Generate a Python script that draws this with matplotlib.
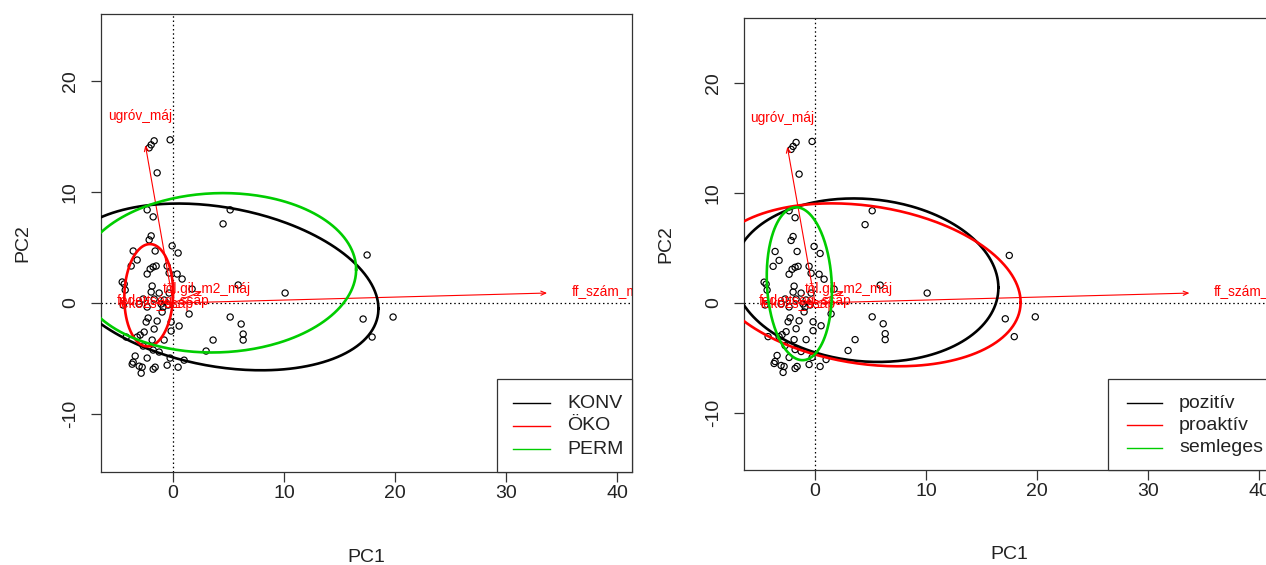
import numpy as np
import matplotlib
matplotlib.use("Agg")
import matplotlib.pyplot as plt
from matplotlib.patches import Rectangle
from matplotlib.lines import Line2D

plt.rcParams['font.family'] = ['Liberation Sans', 'DejaVu Sans']

# PCA site scores (PC1, PC2)
pc1 = [-1.71, -1.98, -2.16, -0.27, -1.44, -2.34, 5.14, -1.80, 4.50, -1.98,
       -2.16, -3.60, -1.62, -0.09, 0.45, -3.24, -3.78, -2.07, -1.80, -1.53,
       -2.34, -0.54, -0.36, 0.36, 0.81, -4.59, -4.41, -1.89, -4.32, -1.98,
       -1.26, -0.36, 1.71, 10.09, 5.86, -2.70, -1.71, -0.81, -3.06, -4.50,
       -1.08, -0.90, -0.45, -2.34, -0.99, 1.44, -2.25, -2.43, -1.44, -0.18,
       0.54, 5.14, 6.13, -1.71, -0.18, 6.31, 6.31, -4.23, -2.97, -2.61,
       -3.24, -1.89, 3.60, -0.81, -2.70, -1.80, -1.26, 2.97, -0.27, -3.42,
       -2.34, -3.60, -3.69, -3.06, -2.79, -2.88, -1.62, -1.80, -0.54, 0.45,
       17.48, 17.12, 19.82, 17.93, 0.99]
pc2 = [14.59, 14.23, 13.96, 14.68, 11.71, 8.38, 8.38, 7.75, 7.12, 6.04,
       5.68, 4.68, 4.68, 5.14, 4.50, 3.87, 3.33, 3.06, 3.24, 3.33,
       2.61, 3.33, 2.70, 2.61, 2.16, 1.89, 1.71, 1.53, 1.17, 0.99,
       0.90, 0.90, 1.26, 0.90, 1.62, 0.36, 0.36, 0.27, -0.09, -0.18,
       -0.09, -0.36, -0.18, -0.36, -0.81, -0.99, -1.35, -1.71, -1.62, -1.71,
       -2.07, -1.26, -1.89, -2.34, -2.52, -2.79, -3.33, -3.06, -2.88, -2.61,
       -3.06, -3.33, -3.33, -3.33, -3.87, -4.23, -4.41, -4.32, -4.95, -4.77,
       -4.95, -5.32, -5.50, -5.68, -5.77, -6.31, -5.77, -5.95, -5.59, -5.77,
       4.32, -1.44, -1.26, -3.06, -5.14]

# variable loadings: arrow tips and label anchors
var_names = ["ugróv_máj", "ff_szám_máj", "töl.gil_m2_máj", "fedettség_ssap", "lekozs_ssap"]
arrow_x = [-2.5, 33.7, 2.6, -1.0, -1.6]
arrow_y = [14.2, 0.9, 1.07, 0.15, 0.0]
label_x = [-3.0, 39.4, 3.06, -0.9, -1.6]
label_y = [16.8, 0.99, 1.26, 0.18, -0.05]

# group dispersion ellipses: centre and covariance (xx, yy, xy)
mgmt_groups = ["KONV", "ÖKO", "PERM"]
mgmt_cx = [4.2, -2.2, 4.0]
mgmt_cy = [1.45, 0.7, 2.72]
mgmt_sxx = [204.5, 4.84, 156.0]
mgmt_syy = [56.25, 21.2, 51.4]
mgmt_sxy = [-28.0, 0.5, 3.6]

att_groups = ["pozitív", "proaktív", "semleges"]
att_cx = [4.57, 4.5, -1.42]
att_cy = [2.07, 1.65, 1.75]
att_sxx = [142.3, 196.0, 8.6]
att_syy = [55.2, 54.8, 48.3]
att_sxy = [-8.17, -22.2, -2.0]

x_ticks = [0, 10, 20, 30, 40]
y_ticks = [-10, 0, 10, 20]

group_colors = ["black", "#FF0000", "#00CD00"]

W, H = 1266, 565
fig = plt.figure(figsize=(W / 100, H / 100), dpi=100)


def px_axes(left, top, right, bottom):
    return fig.add_axes([left / W, 1 - bottom / H, (right - left) / W, (bottom - top) / H])


def draw_panel(ax, xlim, ylim, groups, cx, cy, sxx, syy, sxy, legend_box, ylabel_x):
    ax.set_xlim(xlim)
    ax.set_ylim(ylim)
    ax.axhline(0, color="black", lw=0.9, ls=(0, (1.2, 2.2)), zorder=1)
    ax.axvline(0, color="black", lw=0.9, ls=(0, (1.2, 2.2)), zorder=1)
    ax.scatter(pc1, pc2, s=20, facecolors="none", edgecolors="black", linewidths=0.85, zorder=2)

    for ax_, ay_, lx, ly, name in zip(arrow_x, arrow_y, label_x, label_y, var_names):
        ax.annotate("", xy=(ax_, ay_), xytext=(0, 0),
                    arrowprops=dict(arrowstyle="->,head_length=0.35,head_width=0.15",
                                    color="#FF0000", lw=0.8, shrinkA=0, shrinkB=0),
                    zorder=3, annotation_clip=False)
        ax.text(lx, ly, name, color="#FF0000", fontsize=9.8, ha="center", va="center",
                zorder=3, clip_on=True)

    t = np.linspace(0, 2 * np.pi, 300)
    for gx, gy, a, b, c, col in zip(cx, cy, sxx, syy, sxy, group_colors):
        L = np.linalg.cholesky(np.array([[a, c], [c, b]]))
        pts = L @ np.vstack([np.cos(t), np.sin(t)])
        ax.plot(gx + pts[0], gy + pts[1], color=col, lw=1.9, zorder=4)

    ax.set_xticks(x_ticks)
    ax.set_yticks(y_ticks)
    ax.set_xticklabels([str(v) for v in x_ticks])
    ax.set_yticklabels([str(v) for v in y_ticks], rotation=90, va="center")
    ax.tick_params(direction="out", length=7, width=0.9, labelsize=14, color="#333333",
                   labelcolor="#222222")
    ax.tick_params(axis="x", pad=2)
    ax.tick_params(axis="y", pad=9)
    for sp in ax.spines.values():
        sp.set_linewidth(0.9)
        sp.set_color("#333333")
    ax.set_xlabel("PC1", fontsize=14, color="#222222")
    ax.set_ylabel("PC2", fontsize=14, color="#222222")
    ax.xaxis.set_label_coords(0.5, -0.186)
    ax.xaxis.label.set_va("center")
    ax.yaxis.set_label_coords(ylabel_x, 0.5)
    ax.yaxis.label.set_va("center")

    # legend box
    bl, bt, br, bb, line_x0, line_x1, text_x, rows = legend_box
    fig_box = Rectangle((bl / W, 1 - bb / H), (br - bl) / W, (bb - bt) / H,
                        transform=fig.transFigure, facecolor="white", edgecolor="#333333",
                        lw=0.9, zorder=10)
    fig.patches.append(fig_box)
    for name, col, ry in zip(groups, group_colors, rows):
        fig.lines.append(Line2D([line_x0 / W, line_x1 / W], [1 - ry / H, 1 - ry / H],
                                transform=fig.transFigure, color=col, lw=1.0, zorder=11))
        fig.text(text_x / W, 1 - ry / H, name, fontsize=14, color="#222222",
                 ha="left", va="center", zorder=11)


ax1 = px_axes(101, 14, 632, 472)
draw_panel(ax1, (-6.5, 41.35), (-15.2, 26.0), mgmt_groups, mgmt_cx, mgmt_cy,
           mgmt_sxx, mgmt_syy, mgmt_sxy,
           (497, 379, 632, 472, 513, 550, 567, [403, 426, 449]), -0.148)

ax2 = px_axes(744, 18, 1275, 470)
draw_panel(ax2, (-6.4, 41.4), (-15.18, 25.9), att_groups, att_cx, att_cy,
           att_sxx, att_syy, att_sxy,
           (1108, 379, 1275, 470, 1127, 1162, 1179, [403, 425, 448]), -0.148)

fig.savefig("out.png", dpi=100, facecolor="white")
